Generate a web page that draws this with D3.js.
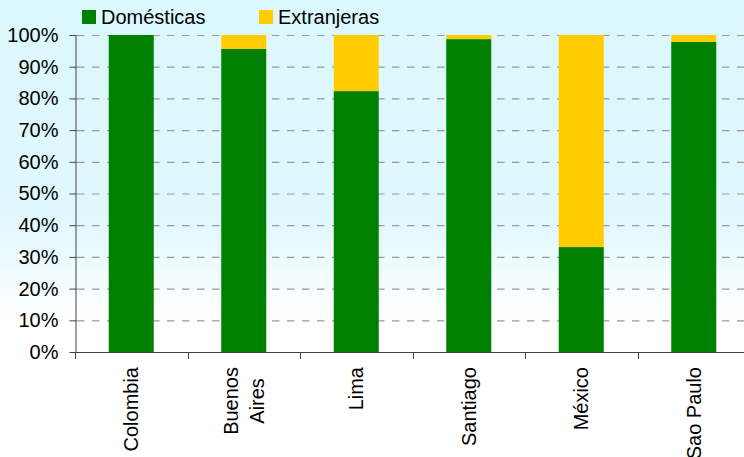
<!DOCTYPE html>
<html>
<head>
<meta charset="utf-8">
<script src="https://cdn.jsdelivr.net/npm/d3@7"></script>
<style>
  body { margin: 0; }
  svg { display: block; font-family: "Liberation Sans", Arial, sans-serif; }
</style>
</head>
<body>
<svg></svg>
<script>
const categories = ['Colombia', 'Buenos Aires', 'Lima', 'Santiago', 'México', 'Sao Paulo'];
const labelLines = [['Colombia'], ['Buenos', 'Aires'], ['Lima'], ['Santiago'], ['México'], ['Sao Paulo']];
const domesticas = [100, 95.6, 82.3, 98.7, 33.1, 97.8];
const extranjeras = [0, 4.4, 17.7, 1.3, 66.9, 2.2];
const yTicks = [0, 10, 20, 30, 40, 50, 60, 70, 80, 90, 100];
const seriesNames = ['Domésticas', 'Extranjeras'];
const colors = ['#008000', '#ffcc00'];

const size = {w: 744, h: 457};
const margins = {t: 35, r: -6, b: 105, l: 75};
const fontSize = '20px';
const svg = d3.select('svg').attr('width', size.w).attr('height', size.h);

// background gradient
const defs = svg.append('defs');
const grad = defs.append('linearGradient').attr('id', 'bg')
    .attr('x1', 0).attr('y1', 0).attr('x2', 0).attr('y2', 1);
grad.append('stop').attr('offset', '0%').attr('stop-color', '#dbf8fd');
grad.append('stop').attr('offset', '48%').attr('stop-color', '#e0f8fd');
grad.append('stop').attr('offset', '70%').attr('stop-color', '#ffffff');
grad.append('stop').attr('offset', '100%').attr('stop-color', '#ffffff');
svg.append('rect').attr('width', size.w).attr('height', size.h).attr('fill', 'url(#bg)');

const x = d3.scaleBand()
    .domain(categories)
    .range([margins.l, size.w - margins.r])
    .paddingInner(0.6).paddingOuter(0.3);

const xBand = d3.scaleBand()
    .domain(categories)
    .range([margins.l, size.w - margins.r]);

const y = d3.scaleLinear()
    .domain([0, 100])
    .range([size.h - margins.b, margins.t]);

// gridlines
svg.append('g')
    .selectAll('line')
    .data(yTicks.filter(d => d > 0))
    .join('line')
    .attr('x1', margins.l + 2).attr('x2', size.w)
    .attr('y1', d => y(d) + 0.5).attr('y2', d => y(d) + 0.5)
    .attr('stroke', '#999')
    .attr('stroke-width', 1.2)
    .attr('stroke-dasharray', '7.5,7.5');

// stacked bars
const data = categories.map((c, i) => ({cat: c, Domésticas: domesticas[i], Extranjeras: extranjeras[i]}));
const stack = d3.stack().keys(seriesNames)(data);

svg.append('g')
    .selectAll('g')
    .data(stack)
    .join('g')
    .attr('fill', (d, i) => colors[i])
    .selectAll('rect')
    .data(d => d)
    .join('rect')
    .attr('x', d => x(d.data.cat))
    .attr('width', x.bandwidth())
    .attr('y', d => y(d[1]))
    .attr('height', d => y(d[0]) - y(d[1]));

// y axis
const yAxis = svg.append('g')
    .attr('transform', `translate(${margins.l + 0.5},0)`)
    .call(d3.axisLeft(y).tickValues(yTicks).tickSize(6).tickSizeOuter(0).tickFormat(d => d + '%'));
yAxis.select('.domain').attr('stroke', '#444');
yAxis.selectAll('.tick line').attr('stroke', '#444').attr('x2', -6).attr('x1', 1);
yAxis.selectAll('.tick text')
    .attr('x', -17)
    .attr('fill', '#000')
    .style('font-size', fontSize)
    .style('font-family', '"Liberation Sans", Arial, sans-serif');

// x axis line + boundary ticks
const xg = svg.append('g');
xg.append('line')
    .attr('x1', margins.l).attr('x2', size.w)
    .attr('y1', y(0) + 0.5).attr('y2', y(0) + 0.5)
    .attr('stroke', '#444');
xg.selectAll('line.tk')
    .data(categories)
    .join('line').attr('class', 'tk')
    .attr('x1', d => Math.round(xBand(d)) + 0.5).attr('x2', d => Math.round(xBand(d)) + 0.5)
    .attr('y1', y(0)).attr('y2', y(0) + 7)
    .attr('stroke', '#444');

// x labels (rotated)
const lineH = 26;
categories.forEach((c, i) => {
  const lines = labelLines[i];
  const cx = x(c) + x.bandwidth() / 2;
  const g = svg.append('g')
      .attr('transform', `translate(${cx},${y(0) + 15}) rotate(-90)`);
  const texts = g.selectAll('text')
      .data(lines)
      .join('text')
      .attr('fill', '#000')
      .style('font-size', fontSize)
      .attr('text-anchor', 'middle')
      .attr('y', (d, j) => (j - (lines.length - 1) / 2) * lineH + 7)
      .text(d => d);
  const maxLen = d3.max(texts.nodes(), n => n.getComputedTextLength());
  texts.attr('x', -maxLen / 2);
});

// legend
const legend = svg.append('g');
const legendX = [82, 259];
seriesNames.forEach((s, i) => {
  legend.append('rect')
      .attr('x', legendX[i]).attr('y', 10)
      .attr('width', 14).attr('height', 14)
      .attr('fill', colors[i]);
  legend.append('text')
      .attr('x', legendX[i] + 19).attr('y', 24)
      .attr('fill', '#000')
      .style('font-size', fontSize)
      .text(s);
});
</script>
</body>
</html>
